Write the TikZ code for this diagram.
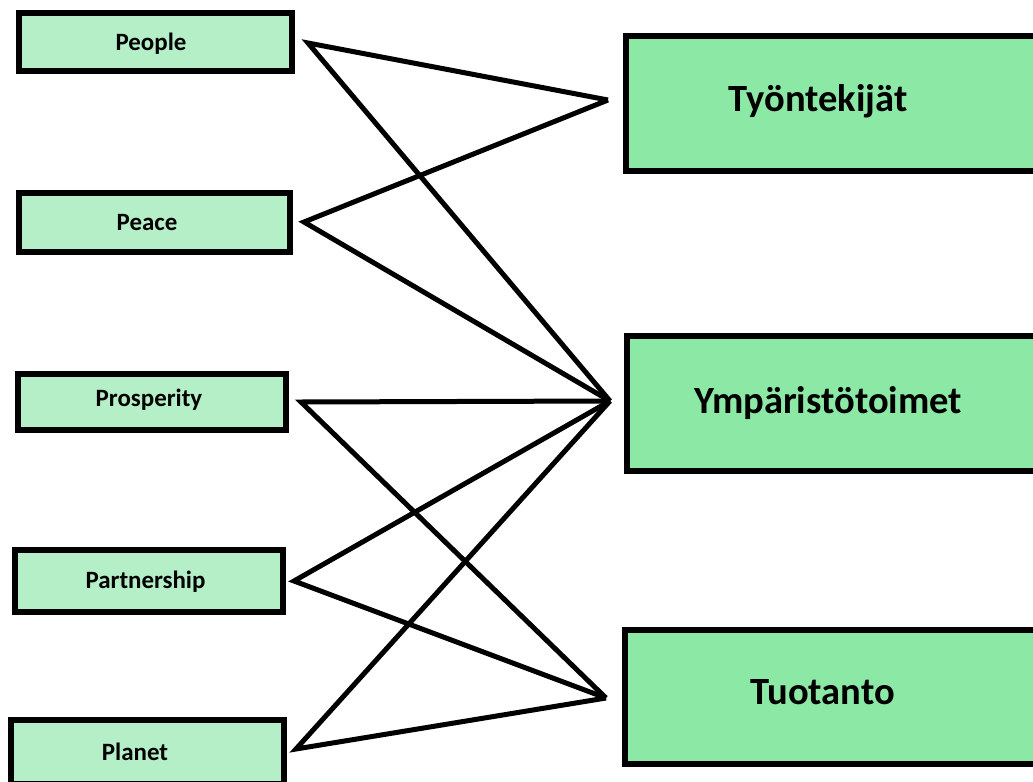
\documentclass[tikz,border=0pt]{standalone}
\usepackage{fontspec}
\setmainfont{Carlito}
\definecolor{lightbox}{RGB}{181,239,200}
\definecolor{darkbox}{RGB}{139,232,165}
\tikzset{
  smallbox/.style={draw=black, line width=4.5pt, fill=lightbox, rectangle, inner sep=0pt},
  bigbox/.style={draw=black, line width=4.5pt, fill=darkbox, rectangle, inner sep=0pt, minimum width=420*0.75pt, minimum height=135*0.75pt},
  smalltxt/.style={anchor=base, inner sep=0pt, font=\fontsize{18.7}{20}\selectfont\bfseries},
  bigtxt/.style={anchor=base, inner sep=0pt, font=\fontsize{28.9}{30}\selectfont\bfseries},
  link/.style={draw=black, line width=3.75pt, line join=miter, line cap=butt}
}
\begin{document}
\begin{tikzpicture}[x=0.75pt, y=-0.75pt]
\useasboundingbox (0,0) rectangle (1033,782);
\clip (0,0) rectangle (1033,782);
\fill[white] (0,0) rectangle (1033,782);
% left boxes
\node[smallbox, minimum width=273*0.75pt, minimum height=58*0.75pt] (people) at (155.5,42) {};
\node[smallbox, minimum width=271*0.75pt, minimum height=59*0.75pt] (peace) at (154.5,222.5) {};
\node[smallbox, minimum width=268*0.75pt, minimum height=56*0.75pt] (prosperity) at (152,402) {};
\node[smallbox, minimum width=268*0.75pt, minimum height=62*0.75pt] (partnership) at (149,581) {};
\node[smallbox, minimum width=273*0.75pt, minimum height=64*0.75pt] (planet) at (147.5,752) {};
\node[smalltxt] (peopleT) at (151,50) {People};
\node[smalltxt] (peaceT) at (147,230) {Peace};
\node[smalltxt] (prosperityT) at (149,406.5) {Prosperity};
\node[smalltxt] (partnershipT) at (145.5,588.3) {Partnership};
\node[smalltxt] (planetT) at (135,760) {Planet};
% right boxes
\node[bigbox] (tyo) at (836,103.5) {};
\node[bigbox] (ymp) at (837,403.5) {};
\node[bigbox, minimum height=134*0.75pt] (tuo) at (835,697) {};
\node[bigtxt] (tyoT) at (818,111.7) {Työntekijät};
\node[bigtxt] (ympT) at (828,413.3) {Ympäristötoimet};
\node[bigtxt] (tuoT) at (822.5,704.3) {Tuotanto};
% connector end points
\coordinate (pA) at (308,43);
\coordinate (pB) at (304,222);
\coordinate (pC) at (301,402);
\coordinate (pD) at (294,581);
\coordinate (pE) at (296,749);
\coordinate (rA) at (608,100);
\coordinate (rB) at (610,401);
\coordinate (rC) at (606,698);
% connectors
\draw[link] (rA) -- (pA) -- (rB);
\draw[link] (rA) -- (pB) -- (rB);
\draw[link] (rB) -- (pC) -- (rC);
\draw[link] (rB) -- (pD) -- (rC);
\draw[link] (rB) -- (pE) -- (rC);
\end{tikzpicture}
\end{document}
